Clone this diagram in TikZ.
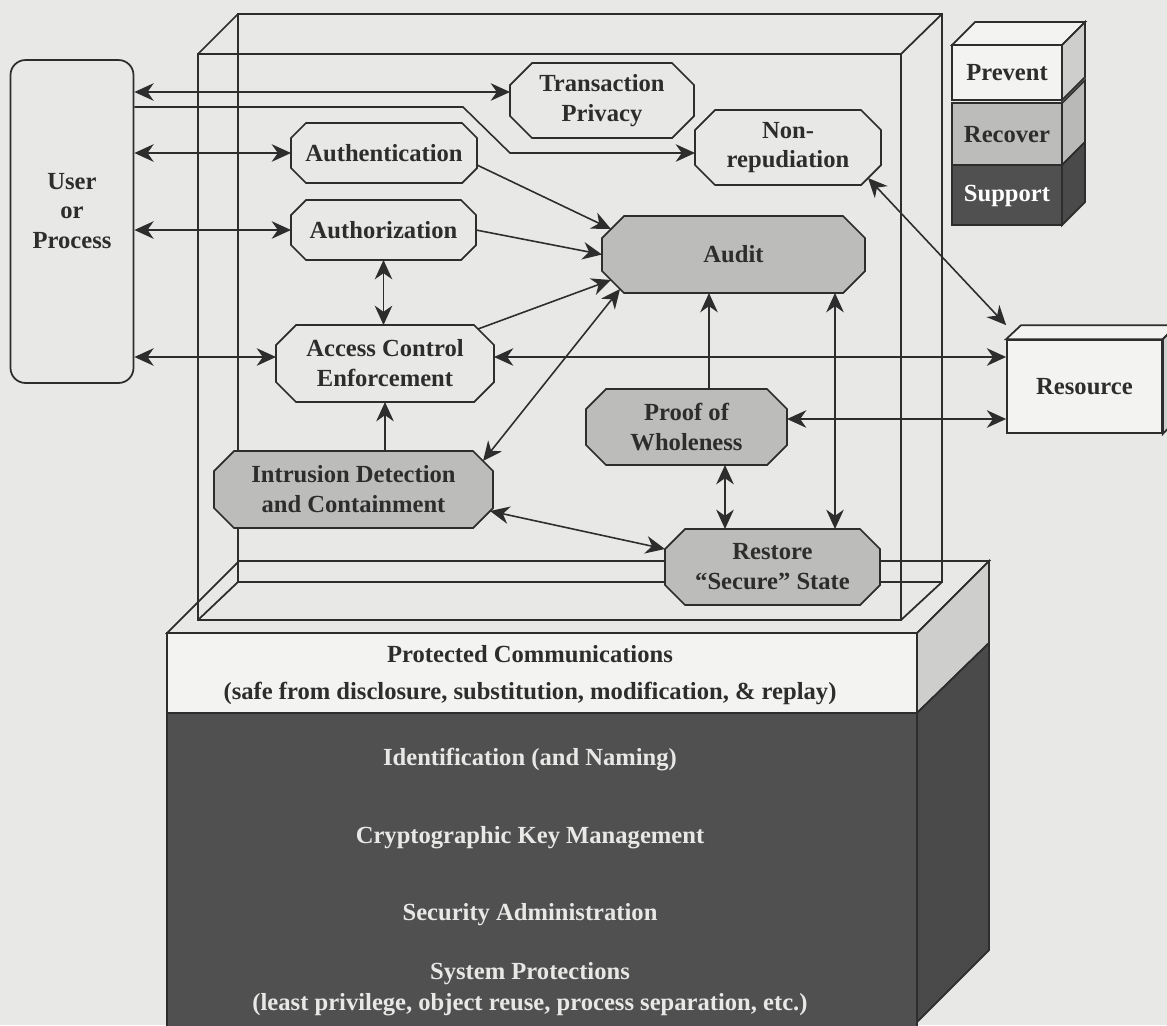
\documentclass[tikz,border=0pt]{standalone}
\usepackage{fontspec}
\setmainfont{Liberation Serif}
\usetikzlibrary{arrows.meta, calc}
\definecolor{paper}{RGB}{232,232,230}
\definecolor{facewhite}{RGB}{243,243,241}
\definecolor{sidegray}{RGB}{206,206,204}
\definecolor{recgray}{RGB}{188,188,186}
\definecolor{suppdark}{RGB}{80,80,80}
\definecolor{ink}{RGB}{45,45,45}
\newcommand{\boxfont}{\fontsize{14}{17}\selectfont\bfseries}
% fill, name, x, y, width, height, chamfer, text
\newcommand{\octnode}[8]{%
  \filldraw[wire, fill=#1] ({#3-#5/2+#7},{#4-#6/2}) -- ({#3+#5/2-#7},{#4-#6/2})
    -- ({#3+#5/2},{#4-#6/2+#7}) -- ({#3+#5/2},{#4+#6/2-#7})
    -- ({#3+#5/2-#7},{#4+#6/2}) -- ({#3-#5/2+#7},{#4+#6/2})
    -- ({#3-#5/2},{#4+#6/2-#7}) -- ({#3-#5/2},{#4-#6/2+#7}) -- cycle;
  \node[octtext, minimum width=#5*0.02cm, minimum height=#6*0.02cm] (#2) at (#3,#4) {#8};
}

\tikzset{
  wire/.style={draw=ink, line width=1pt},
  octtext/.style={rectangle, inner sep=0pt, outer sep=0pt, align=center, font=\boxfont, text=ink},
  ar/.style={-{Stealth[length=11pt, width=10pt, inset=3.5pt]}, draw=ink, line width=0.9pt},
  dar/.style={{Stealth[length=11pt, width=10pt, inset=3.5pt]}-{Stealth[length=11pt, width=10pt, inset=3.5pt]}, draw=ink, line width=0.9pt},
  layer/.style={font=\boxfont, align=center},
}

\begin{document}
\begin{tikzpicture}[x=0.02cm, y=-0.02cm]
\useasboundingbox[fill=paper] (0,0) rectangle (1167,1025);

% platform
\filldraw[wire, fill=paper] (167,633) -- (239,561) -- (989,561) -- (917,633) -- cycle;
\filldraw[wire, fill=facewhite] (167,633) rectangle (917,713);
\filldraw[wire, fill=suppdark] (167,713) rectangle (917,1030);
\filldraw[wire, fill=sidegray] (917,633) -- (989,561) -- (989,643) -- (917,713) -- cycle;
\filldraw[wire, fill=suppdark!92!black] (917,713) -- (989,643) -- (989,950) -- (917,1022) -- cycle;

% frame
\draw[wire] (198,54) rectangle (901,620) (238,14) rectangle (942,582)
  (198,54) -- (238,14) (901,54) -- (942,14) (901,620) -- (942,582) (198,620) -- (238,582);

% legend
\filldraw[wire, fill=facewhite] (952,45) -- (975,22) -- (1085,22) -- (1062,45) -- cycle;
\filldraw[wire, fill=facewhite] (952,45) rectangle (1062,100);
\filldraw[wire, fill=sidegray] (1062,45) -- (1085,22) -- (1085,77) -- (1062,100) -- cycle;
\filldraw[wire, fill=recgray] (952,103) rectangle (1062,165);
\filldraw[wire, fill=sidegray!90!black] (1062,103) -- (1085,80) -- (1085,142) -- (1062,165) -- cycle;
\filldraw[wire, fill=suppdark] (952,165) rectangle (1062,225);
\filldraw[wire, fill=suppdark!92!black] (1062,165) -- (1085,142) -- (1085,202) -- (1062,225) -- cycle;
\node[layer, text=ink] (prevent) at (1007,73) {Prevent};
\node[layer, text=ink] (recover) at (1007,135) {Recover};
\node[layer, text=white] (support) at (1007,196) {Support};

% nodes
\node[draw=ink, line width=1pt, fill=paper, rounded corners=0.3cm, minimum width=2.46cm,
  minimum height=6.46cm] (user) at (72,221.5) {};
\node[octtext] (usertext) at (72,211) {User\\or\\Process};
\octnode{paper}{trans}{602}{100.5}{184}{75}{22}{Transaction\\Privacy}
\octnode{paper}{nonrep}{788}{147.5}{186}{75}{20}{Non-\\repudiation}
\octnode{paper}{authn}{384}{153}{186}{60}{15}{Authentication}
\octnode{paper}{authz}{383.5}{230}{185}{60}{15}{Authorization}
\octnode{recgray}{audit}{733.5}{254.5}{263}{77}{22}{Audit}
\octnode{paper}{ace}{385}{363.5}{218}{77}{20}{Access Control\\Enforcement}
\octnode{recgray}{proof}{686.5}{427}{201}{76}{20}{Proof of\\Wholeness}
\octnode{recgray}{idc}{353.5}{489.5}{279}{77}{20}{Intrusion Detection\\and Containment}
\octnode{recgray}{restore}{772.5}{567}{215}{76}{20}{Restore\\“Secure” State}
\node[draw=ink, line width=1pt, fill=facewhite, minimum width=3.1cm, minimum height=1.86cm,
  font=\boxfont, text=ink] (resource) at (1084.5,386.5) {Resource};
\filldraw[wire, fill=facewhite] (resource.north west) -- ++(15,-14) -- ++(155,0) -- (resource.north east) -- cycle;
\filldraw[wire, fill=sidegray] (resource.north east) -- ++(15,-14) -- ++(0,93) -- (resource.south east) -- cycle;

% platform texts
\node[layer, text=ink, font=\fontsize{14}{21}\selectfont\bfseries] (pcomm) at (530,675)
  {Protected Communications\\(safe from disclosure, substitution, modification, \&  replay)};
\node[layer, text=paper] (ident) at (530,760) {Identification (and Naming)};
\node[layer, text=paper] (ckm) at (530,838) {Cryptographic Key Management};
\node[layer, text=paper] (secadm) at (530,915) {Security Administration};
\node[layer, text=paper, font=\fontsize{14}{18}\selectfont\bfseries] (sysprot) at (530,989)
  {System Protections\\(least privilege, object reuse, process separation, etc.)};

% connectors
\draw[dar] (user.east |- 0,92) -- (trans.west |- 0,92);
\draw[ar] (user.east |- 0,107) -- (463,107) -- (510,153) -- (nonrep.west |- 0,153);
\draw[dar] (user.east |- authn.west) -- (authn.west);
\draw[dar] (user.east |- authz.west) -- (authz.west);
\draw[dar] (user.east |- 0,357) -- (ace.west |- 0,357);
\draw[dar] (authz.south) -- (authz.south |- ace.north);
\draw[ar] ($(authn.east)+(0,12)$) -- ($(audit.north west)+(9,13)$);
\draw[ar] (authz.east) -- (audit.west);
\draw[ar] ($(ace.north east)+(-16,4)$) -- ($(audit.south west)+(9,-13)$);
\draw[dar] ($(idc.north east)+(-10,10)$) -- ($(audit.south west)+(18,-4)$);
\draw[ar] (709,0 |- proof.north) -- (709,0 |- audit.south);
\draw[dar] (835,0 |- audit.south) -- (835,0 |- restore.north);
\draw[dar] (725,0 |- proof.south) -- (725,0 |- restore.north);
\draw[dar] ($(idc.south east)+(-3,-17)$) -- ($(restore.west)+(0,-18)$);
\draw[ar] (ace.south |- idc.north) -- (ace.south);
\draw[dar] (ace.east |- 0,357) -- (resource.west |- 0,357);
\draw[dar] (proof.east |- 0,419) -- (resource.west |- 0,419);
\draw[dar] ($(nonrep.south east)+(-13,-7)$) -- ([yshift=0.28cm]resource.north west);
\end{tikzpicture}
\end{document}
